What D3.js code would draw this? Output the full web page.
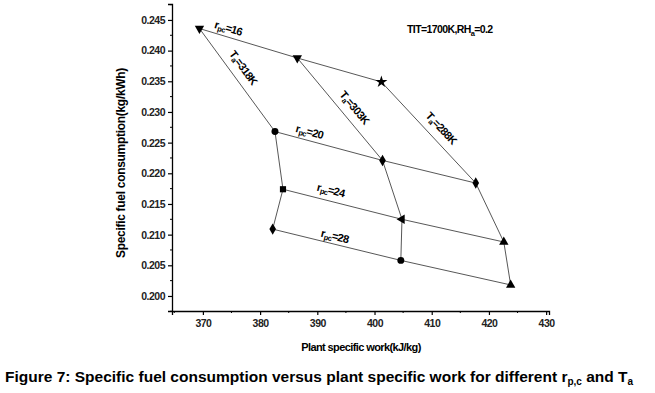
<!DOCTYPE html>
<meta charset="utf-8">
<head>
  <meta charset="UTF-8" />
  <title>Figure 7</title>
  <script src="https://d3js.org/d3.v7.min.js"></script>
</head>
<style>
  body { margin: 0; background: #fff; }
  text { font-family: "Liberation Sans", Arial, sans-serif; }
</style>
<div id="chart"></div>
<script>
  // compressor pressure ratios and ambient temperatures
  var pressureRatios = [16, 20, 24, 28]
  var ambientTemps = [318, 303, 288]

  // plant specific work (kJ/kg), one entry per pressure ratio
  var work318 = [369.4, 382.6, 384.0, 382.2]
  var work303 = [386.5, 401.4, 404.8, 404.6]
  var work288 = [401.2, 417.7, 422.6, 423.8]

  // specific fuel consumption (kg/kWh)
  var sfc318 = [0.2436, 0.2268, 0.2174, 0.2109]
  var sfc303 = [0.2388, 0.2221, 0.2125, 0.2058]
  var sfc288 = [0.2349, 0.2184, 0.2088, 0.2018]

  var xTicks = [370, 380, 390, 400, 410, 420, 430]
  var yTicks = [0.200, 0.205, 0.210, 0.215, 0.220, 0.225, 0.230, 0.235, 0.240, 0.245]

  var works = [work318, work303, work288]
  var sfcs = [sfc318, sfc303, sfc288]

  // marker symbol for each point [temp][ratio]
  var symbols = [
    [d3.symbolTriangle, d3.symbolCircle, d3.symbolSquare, d3.symbolDiamond],
    [d3.symbolTriangle, d3.symbolDiamond, d3.symbolTriangle, d3.symbolCircle],
    [d3.symbolStar, d3.symbolDiamond, d3.symbolTriangle, d3.symbolTriangle]
  ]
  var rotations = [
    [180, 0, 0, 0],
    [180, 0, -90, 0],
    [0, 0, 0, 0]
  ]

  var svg = d3.select("#chart").append("svg")
    .attr("width", 655)
    .attr("height", 393)

  var x = d3.scaleLinear().domain([364.6, 430.5]).range([172, 549])
  var y = d3.scaleLinear().domain([0.19755, 0.2476]).range([311, 4])

  // axes
  var xAxis = svg.append("g")
    .attr("transform", "translate(0,311)")
    .call(d3.axisBottom(x).tickValues(xTicks).tickSize(4).tickPadding(5).tickFormat(d3.format("d")))
  var yAxis = svg.append("g")
    .attr("transform", "translate(172,0)")
    .call(d3.axisLeft(y).tickValues(yTicks).tickSize(4).tickPadding(3).tickFormat(d3.format(".3f")))

  ;[xAxis, yAxis].forEach(function (ax) {
    ax.select(".domain").attr("stroke", "#000").attr("stroke-width", 1.3)
    ax.selectAll(".tick line").attr("stroke", "#000").attr("stroke-width", 1.2)
    ax.selectAll(".tick text")
      .attr("fill", "#222")
      .style("font-size", "10.5px")
      .style("font-weight", "bold")
      .style("letter-spacing", "-0.5px")
  })

  // minor ticks
  svg.append("g").selectAll("line")
    .data(d3.range(365, 431, 10))
    .join("line")
      .attr("x1", d => x(d)).attr("x2", d => x(d))
      .attr("y1", 311).attr("y2", 313)
      .attr("stroke", "#000")
  svg.append("g").selectAll("line")
    .data(d3.range(0.1975, 0.2476, 0.005))
    .join("line")
      .attr("x1", 170).attr("x2", 172)
      .attr("y1", d => y(d)).attr("y2", d => y(d))
      .attr("stroke", "#000")

  var line = d3.line().x(d => x(d[0])).y(d => y(d[1]))

  // constant Ta lines
  ambientTemps.forEach(function (t, i) {
    var pts = works[i].map((w, j) => [w, sfcs[i][j]])
    svg.append("path")
      .attr("d", line(pts))
      .attr("fill", "none")
      .attr("stroke", "#444")
      .attr("stroke-width", 0.9)
  })

  // constant pressure ratio lines
  pressureRatios.forEach(function (r, j) {
    var pts = ambientTemps.map((t, i) => [works[i][j], sfcs[i][j]])
    svg.append("path")
      .attr("d", line(pts))
      .attr("fill", "none")
      .attr("stroke", "#444")
      .attr("stroke-width", 0.9)
  })

  // markers
  ambientTemps.forEach(function (t, i) {
    pressureRatios.forEach(function (r, j) {
      svg.append("path")
        .attr("d", d3.symbol().type(symbols[i][j]).size(symbols[i][j] == d3.symbolStar ? 45 : 38)())
        .attr("transform", "translate(" + x(works[i][j]) + "," + y(sfcs[i][j]) + ") rotate(" + rotations[i][j] + ")")
        .attr("fill", "#000")
    })
  })

  // label along a segment, t = fraction along, off = perpendicular offset
  function placeLabel(p0, p1, t, off) {
    var x0 = x(p0[0]), y0 = y(p0[1]), x1 = x(p1[0]), y1 = y(p1[1])
    var dx = x1 - x0, dy = y1 - y0, len = Math.sqrt(dx * dx + dy * dy)
    var ux = dx / len, uy = dy / len
    var px = x0 + dx * t + uy * off, py = y0 + dy * t - ux * off
    var ang = Math.atan2(dy, dx) * 180 / Math.PI
    return svg.append("text")
      .attr("transform", "translate(" + px + "," + py + ") rotate(" + ang + ")")
      .attr("text-anchor", "middle")
      .attr("dominant-baseline", "middle")
      .style("font-size", "11px")
      .style("font-weight", "bold")
      .style("letter-spacing", "-0.6px")
  }

  function subLabel(sel, main, sub, rest) {
    sel.append("tspan").text(main)
    sel.append("tspan").attr("dy", 3).style("font-size", "7.5px").text(sub)
    sel.append("tspan").attr("dy", -3).text(rest)
  }

  var rT = [0.27, 0.3, 0.38, 0.47]
  var rOff = [8, 8, 10, 7]
  pressureRatios.forEach(function (r, j) {
    var lab = placeLabel([works[0][j], sfcs[0][j]], [works[1][j], sfcs[1][j]], rT[j], rOff[j])
    subLabel(lab, "r", "pc", "=" + r)
  })

  var tT = [0.45, 0.56, 0.54]
  ambientTemps.forEach(function (t, i) {
    var lab = placeLabel([works[i][0], sfcs[i][0]], [works[i][1], sfcs[i][1]], tT[i], 11.5)
    subLabel(lab, "T", "a", "=" + t + "K")
  })

  // condition note
  var note = svg.append("text")
    .attr("x", 407).attr("y", 33)
    .style("font-size", "10.5px")
    .style("font-weight", "bold")
    .style("letter-spacing", "-0.6px")
  subLabel(note, "TIT=1700K,RH", "a", "=0.2")

  // axis titles
  svg.append("text")
    .attr("transform", "translate(125,163) rotate(-90)")
    .attr("text-anchor", "middle")
    .style("font-size", "12px")
    .style("font-weight", "bold")
    .style("letter-spacing", "-0.3px")
    .text("Specific fuel consumption(kg/kWh)")

  svg.append("text")
    .attr("x", 361).attr("y", 351)
    .attr("text-anchor", "middle")
    .style("font-size", "11px")
    .style("font-weight", "bold")
    .style("letter-spacing", "-0.6px")
    .text("Plant specific work(kJ/kg)")

  // caption
  var cap = svg.append("text")
    .attr("x", 5).attr("y", 382)
    .style("font-size", "15.5px")
    .style("font-weight", "bold")
  cap.append("tspan").text("Figure 7: Specific fuel consumption versus plant specific work for different r")
  cap.append("tspan").attr("dy", 3).style("font-size", "10px").text("p,c")
  cap.append("tspan").attr("dy", -3).text(" and T")
  cap.append("tspan").attr("dy", 3).style("font-size", "10px").text("a")
</script>
